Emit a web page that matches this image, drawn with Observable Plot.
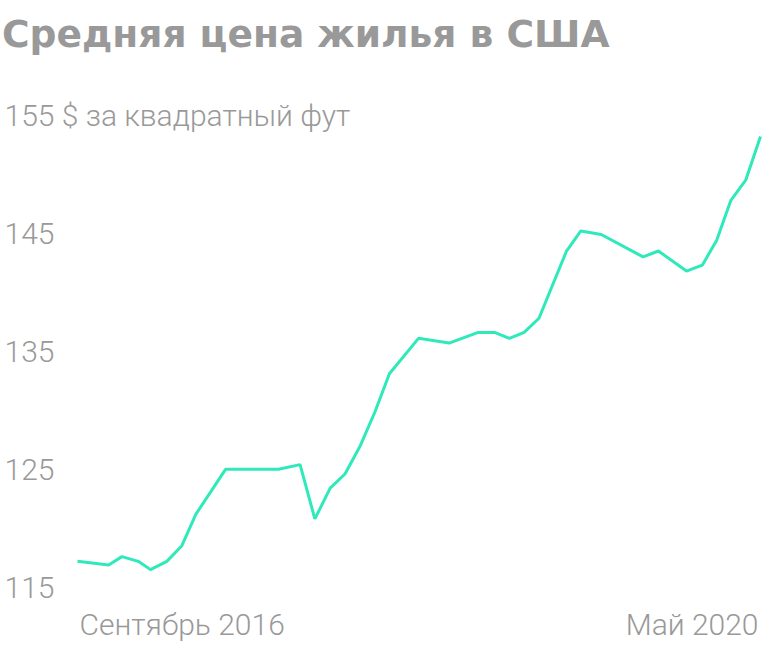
<!DOCTYPE html>
<html><head><meta charset="utf-8">
<script src="https://cdn.jsdelivr.net/npm/d3@7"></script>
<script src="https://cdn.jsdelivr.net/npm/@observablehq/plot@0.6"></script>
<style>
body{margin:0;background:#fff;width:768px;height:659px;overflow:hidden;}
#title{font-family:"DejaVu Sans",sans-serif;font-weight:700;font-size:37.6px;color:#999;height:70px;line-height:70px;margin:0;padding-left:2px;white-space:nowrap;position:relative;top:-1px;}
#chart svg{display:block;}
</style></head><body>
<div id="title">Средняя цена жилья в США</div>
<div id="chart"></div>
<script>
const dates = ["2016-09-01","2016-11-01","2016-11-27","2016-12-29","2017-01-22","2017-02-23","2017-03-24","2017-04-21","2017-06-18","2017-09-30","2017-11-11","2017-12-10","2018-01-09","2018-02-07","2018-03-09","2018-04-07","2018-05-05","2018-07-01","2018-08-30","2018-10-26","2018-11-27","2018-12-26","2019-01-24","2019-02-22","2019-04-17","2019-05-15","2019-06-24","2019-09-14","2019-10-14","2019-12-08","2020-01-08","2020-02-05","2020-03-04","2020-04-02","2020-05-01"];
const prices = [117.3,117.0,117.7,117.3,116.6,117.3,118.6,121.3,125.1,125.1,125.5,120.9,123.5,124.7,127.1,130.0,133.2,136.2,135.8,136.7,136.7,136.2,136.7,137.9,143.6,145.3,145.0,143.1,143.6,141.9,142.4,144.5,147.9,149.6,153.3];
const yTicks = [115,125,135,145,155];
const topTickLabel = "155 $ за квадратный фут";
const xLabelDates = ["2016-09-01","2020-05-01"];
const xLabelTexts = ["Сентябрь 2016","Май 2020"];

const parse = d3.utcParse("%Y-%m-%d");
const data = dates.map((d,i)=>({date:parse(d), price:prices[i]}));
const xl = xLabelDates.map((d,i)=>({date:parse(d), label:xLabelTexts[i]}));

const chart = Plot.plot({
  width:768, height:589,
  marginLeft:77, marginRight:8, marginTop:46, marginBottom:71,
  style:{fontFamily:"Roboto, 'Noto Sans', sans-serif", fontWeight:300, color:"#999", background:"#fff"},
  x:{type:"utc", domain:[parse(xLabelDates[0]), parse(xLabelDates[1])], axis:null},
  y:{domain:[115,155], axis:null},
  marks:[
    Plot.axisY({ticks:yTicks, tickSize:0, tickPadding:0, textAnchor:"start", dx:-73, fontSize:30, fill:"#999", label:null,
      tickFormat:d=> d===155 ? topTickLabel : String(d)}),
    Plot.line(data,{x:"date", y:"price", stroke:"#2fe9bb", strokeWidth:3, strokeLinejoin:"miter", strokeLinecap:"butt"}),
    Plot.text([xl[0]],{x:"date", text:"label", frameAnchor:"bottom", dy:46, textAnchor:"start", dx:2, fontSize:30, fill:"#999"}),
    Plot.text([xl[1]],{x:"date", text:"label", frameAnchor:"bottom", dy:46, textAnchor:"end", dx:-2, fontSize:30, fill:"#999"})
  ]
});
document.getElementById("chart").appendChild(chart);
</script>
</body></html>
